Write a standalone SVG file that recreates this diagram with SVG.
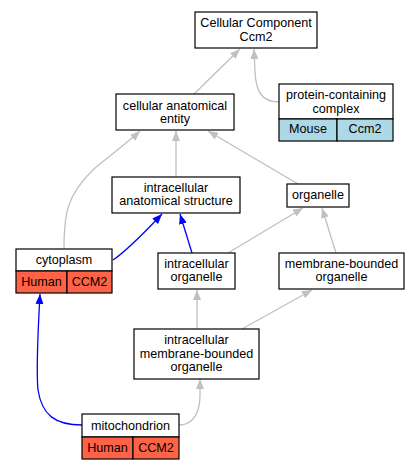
<svg xmlns="http://www.w3.org/2000/svg" width="419" height="469" viewBox="0 0 419 469">
<style>
.box{fill:#fff;stroke:#000;stroke-width:1.2}
.hs{fill:#ff6347;stroke:#000;stroke-width:1.2}
.mm{fill:#add8e6;stroke:#000;stroke-width:1.2}
text{font-family:"Liberation Sans",Arial,sans-serif;font-size:12.6px;fill:#000;text-anchor:middle}
.g{fill:none;stroke:#c0c0c0;stroke-width:1.3}
.b{fill:none;stroke:#0000ff;stroke-width:1.3}
</style>
<defs>
<marker id="ag" markerUnits="userSpaceOnUse" markerWidth="11" markerHeight="9" refX="10" refY="4" orient="auto"><path d="M0,0 L10,4 L0,8 z" fill="#c0c0c0"/></marker>
<marker id="ab" markerUnits="userSpaceOnUse" markerWidth="11" markerHeight="9" refX="10" refY="4" orient="auto"><path d="M0,0 L10,4 L0,8 z" fill="#0000ff"/></marker>
</defs>
<g id="edges">
<path class="g" marker-end="url(#ag)" d="M194,94 L240,49"/>
<path class="g" marker-end="url(#ag)" d="M279,102 C262,102 256,92 255,72 L254,49"/>
<path class="g" marker-end="url(#ag)" d="M64,249 C64,215 66,195 95,168 C110,155 125,145 140,131"/>
<path class="g" marker-end="url(#ag)" d="M176,177 L176,131"/>
<path class="g" marker-end="url(#ag)" d="M298,184 L208,131"/>
<path class="g" marker-end="url(#ag)" d="M228,253 L303,208"/>
<path class="g" marker-end="url(#ag)" d="M336,253 L322,208"/>
<path class="g" marker-end="url(#ag)" d="M197,329 L197,290"/>
<path class="g" marker-end="url(#ag)" d="M242,329 L312,290"/>
<path class="g" marker-end="url(#ag)" d="M179,425 C195,425 200,410 200,395 L200,379"/>
<path class="b" marker-end="url(#ab)" d="M113,260 C125,252 145,232 162,214"/>
<path class="b" marker-end="url(#ab)" d="M192,253 L180,214"/>
<path class="b" marker-end="url(#ab)" d="M82,425 C55,425 42,415 38,390 C36,370 38,330 40,294"/>
</g>
<g id="cc"><rect class="box" x="195" y="12" width="122" height="36"/><text x="256" y="27">Cellular Component</text><text x="256" y="40.5">Ccm2</text></g>
<g id="cae"><rect class="box" x="116" y="94" width="118" height="36"/><text x="175" y="109.5">cellular anatomical</text><text x="175" y="123">entity</text></g>
<g id="pcc"><rect class="box" x="279" y="84" width="114" height="35"/><rect class="mm" x="279" y="119" width="58" height="22"/><rect class="mm" x="337" y="119" width="56" height="22"/><text x="336" y="99">protein-containing</text><text x="336" y="112.5">complex</text><text x="308" y="133">Mouse</text><text x="365" y="133">Ccm2</text></g>
<g id="ias"><rect class="box" x="112" y="177" width="128" height="36"/><text x="176" y="191.5">intracellular</text><text x="176" y="205">anatomical structure</text></g>
<g id="org"><rect class="box" x="287" y="184" width="62" height="23"/><text x="318" y="199">organelle</text></g>
<g id="cyto"><rect class="box" x="16" y="249" width="96" height="22"/><rect class="hs" x="16" y="271" width="51" height="22"/><rect class="hs" x="67" y="271" width="45" height="22"/><text x="64" y="264">cytoplasm</text><text x="41.5" y="285.5">Human</text><text x="89.5" y="285.5">CCM2</text></g>
<g id="io"><rect class="box" x="158" y="253" width="77" height="36"/><text x="196.5" y="267.5">intracellular</text><text x="196.5" y="281">organelle</text></g>
<g id="mbo"><rect class="box" x="279" y="253" width="125" height="36"/><text x="341.5" y="267.5">membrane-bounded</text><text x="341.5" y="281">organelle</text></g>
<g id="imbo"><rect class="box" x="134" y="329" width="125" height="50"/><text x="196.5" y="344">intracellular</text><text x="196.5" y="357.5">membrane-bounded</text><text x="196.5" y="371">organelle</text></g>
<g id="mito"><rect class="box" x="82" y="414" width="97" height="23"/><rect class="hs" x="82" y="437" width="51" height="22"/><rect class="hs" x="133" y="437" width="46" height="22"/><text x="130.5" y="430">mitochondrion</text><text x="107.5" y="451.5">Human</text><text x="156" y="451.5">CCM2</text></g>
</svg>
